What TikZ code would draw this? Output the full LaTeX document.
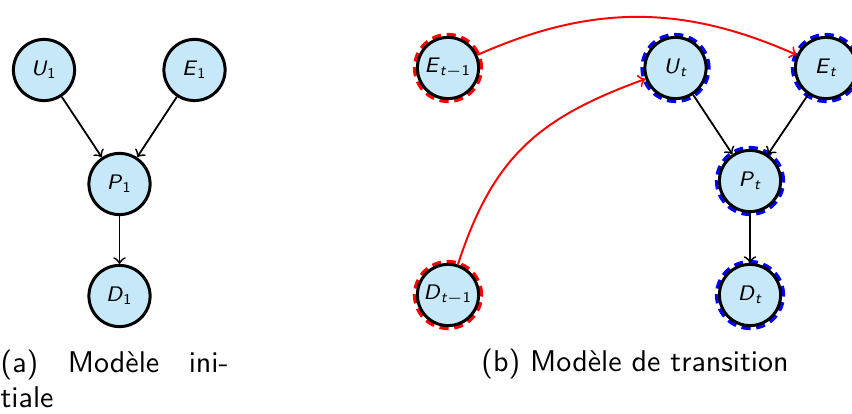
\documentclass[tikz,border=0pt]{standalone}
\usepackage{fontspec}
\usetikzlibrary{arrows,backgrounds}
\definecolor{nodefill}{RGB}{198,232,248}
\newcommand{\vlab}[2]{\textit{#1}\textsubscript{#2}}
\begin{document}
\begin{tikzpicture}[x=0.33333pt,y=-0.33333pt,
  var/.style={circle,draw=black,line width=1pt,fill=nodefill,minimum size=20.4pt,inner sep=0pt,font=\sffamily\scriptsize},
  arr/.style={->,line width=0.6pt},
  tarr/.style={->,red,line width=0.65pt},
  ring/.style={line width=1.4pt,dash pattern=on 3pt off 1.9pt},
]
\useasboundingbox (0,0) rectangle (852,414);
% (a) initial model
\node[var] (U1) at (44,70) {\vlab{U}{1}};
\node[var] (E1) at (194.5,70) {\vlab{E}{1}};
\node[var] (P1) at (119.5,184) {\vlab{P}{1}};
\node[var] (D1) at (119.5,296) {\vlab{D}{1}};
\draw[arr] (U1) -- (P1);
\draw[arr] (E1) -- (P1);
\draw[arr] (P1) -- (D1);
% (b) transition model
\node[var] (Etm) at (448,68) {\vlab{E}{\itshape t\upshape$-$1}};
\node[var] (Dtm) at (448,295) {\vlab{D}{\itshape t\upshape$-$1}};
\node[var] (Ut) at (675.5,68) {\vlab{U}{\itshape t}};
\node[var] (Et) at (826,68) {\vlab{E}{\itshape t}};
\node[var] (Pt) at (750,181) {\vlab{P}{\itshape t}};
\node[var] (Dt) at (750,295) {\vlab{D}{\itshape t}};
\begin{scope}[on background layer]
  \foreach \n in {Ut,Et,Pt,Dt} \draw[ring,blue] (\n.center) circle (11pt);
  \foreach \n in {Etm,Dtm} \draw[ring,red] (\n.center) circle (11pt);
\end{scope}
\draw[arr] (Ut) -- (Pt);
\draw[arr] (Et) -- (Pt);
\draw[arr] (Pt) -- (Dt);
\draw[tarr] (Etm) to[out=24,in=156] (Et);
\draw[tarr] (Dtm) to[out=72,in=200,looseness=1.1] (Ut);
% captions
\node[anchor=north west,text width=76pt,align=justify,inner sep=0pt,font=\sffamily\fontsize{10pt}{11.8pt}\selectfont] (capa) at (0,349) {(a) Modèle ini-\linebreak tiale};
\node[anchor=base,inner sep=0pt,font=\sffamily] (capb) at (635,371) {(b) Modèle de transition};
\end{tikzpicture}
\end{document}
